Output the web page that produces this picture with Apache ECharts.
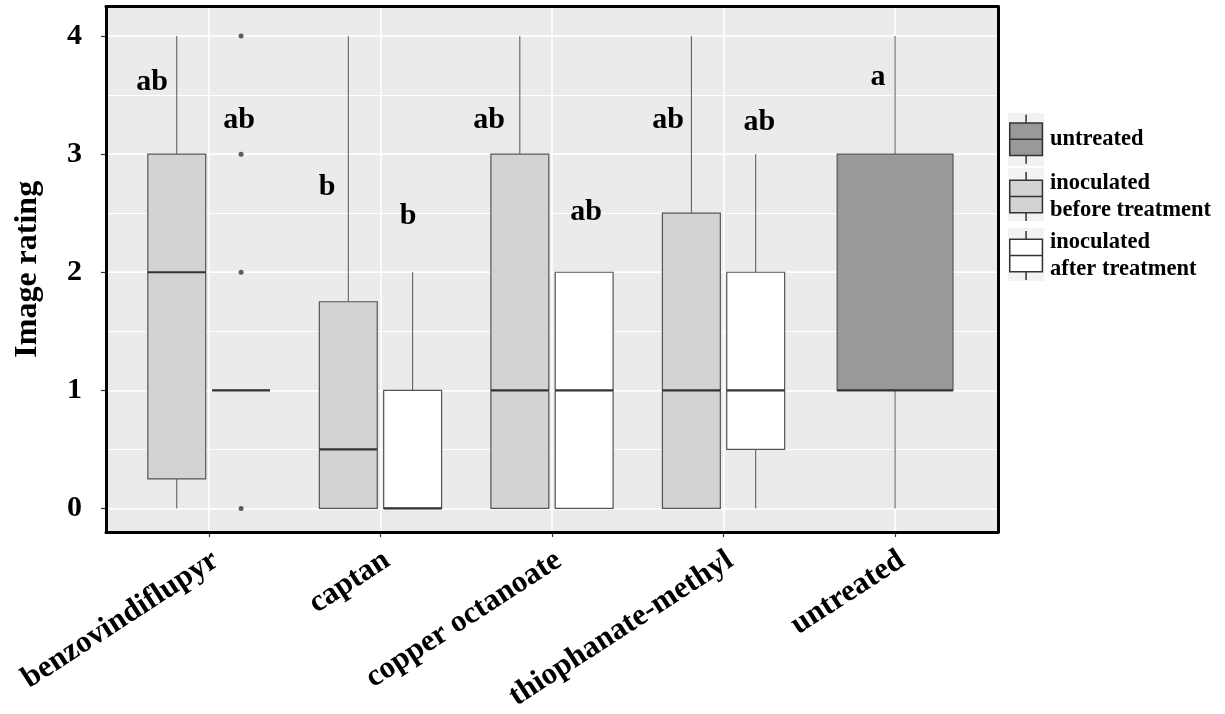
<!DOCTYPE html>
<html>
<head>
<meta charset="utf-8">
<script src="https://cdn.jsdelivr.net/npm/echarts@6/dist/echarts.min.js"></script>
<style>
html,body{margin:0;padding:0;background:#fff;}
#chart{width:1225px;height:714px;}
</style>
</head>
<body>
<div id="chart"></div>
<script>
// ---------- data ----------
const categories = ['benzovindiflupyr', 'captan', 'copper octanoate', 'thiophanate-methyl', 'untreated'];
const groupNames = ['untreated', 'inoculated before treatment', 'inoculated after treatment'];
const yTickValues = [0, 1, 2, 3, 4];
const yGridValues = [0, 0.5, 1, 1.5, 2, 2.5, 3, 3.5, 4];
// [min, Q1, median, Q3, max] per category (null = no box)
const untreatedStats = [null, null, null, null, [0, 1, 1, 3, 4]];
const beforeStats = [[0, 0.25, 2, 3, 4], [0, 0, 0.5, 1.75, 4], [0, 0, 1, 3, 4], [0, 0, 1, 2.5, 4], null];
const afterStats = [[1, 1, 1, 1, 1], [0, 0, 0, 1, 2], [0, 0, 1, 2, 2], [0, 0.5, 1, 2, 3], null];
const afterOutliers = [[0, 2, 3, 4], [], [], [], []];
// significance letters (x in category units, y in rating units)
const letterText = ['ab', 'ab', 'b', 'b', 'ab', 'ab', 'ab', 'ab', 'a'];
const letterX = [0.668, 1.176, 1.689, 2.161, 2.633, 3.199, 3.677, 4.208, 4.901];
const letterY = [3.61, 3.29, 2.72, 2.47, 3.29, 2.51, 3.29, 3.27, 3.65];

// ---------- styling / layout ----------
const FONT = '"Liberation Serif", "Times New Roman", serif';
const fills = ['#999999', '#d3d3d3', '#ffffff'];
const dodge = [{off: 0, w: 0.675}, {off: -0.1875, w: 0.3375}, {off: 0.1875, w: 0.3375}];
const xTickValues = categories.map((c, i) => i + 1);

function toData(stats) {
  const out = [];
  stats.forEach((s, i) => { if (s) out.push([i + 1].concat(s)); });
  return out;
}

function boxRender(off, w, fill) {
  return function (params, api) {
    const x = api.value(0) + off;
    const pMin = api.coord([x, api.value(1)]);
    const pQ1 = api.coord([x, api.value(2)]);
    const pMed = api.coord([x, api.value(3)]);
    const pQ3 = api.coord([x, api.value(4)]);
    const pMax = api.coord([x, api.value(5)]);
    const left = api.coord([x - w / 2, 0])[0];
    const right = api.coord([x + w / 2, 0])[0];
    return {
      type: 'group',
      children: [
        {type: 'line', shape: {x1: pMin[0], y1: pMin[1], x2: pQ1[0], y2: pQ1[1]}, style: {stroke: '#555', lineWidth: 1}},
        {type: 'line', shape: {x1: pQ3[0], y1: pQ3[1], x2: pMax[0], y2: pMax[1]}, style: {stroke: '#555', lineWidth: 1}},
        {type: 'rect', shape: {x: left, y: pQ3[1], width: right - left, height: pQ1[1] - pQ3[1]}, style: {fill: fill, stroke: '#555', lineWidth: 1.2}},
        {type: 'line', shape: {x1: left, y1: pMed[1], x2: right, y2: pMed[1]}, style: {stroke: '#333', lineWidth: 2.2}}
      ]
    };
  };
}

const allStats = [untreatedStats, beforeStats, afterStats];
const boxSeries = groupNames.map((name, g) => ({
  type: 'custom',
  name: name,
  xAxisIndex: 0,
  yAxisIndex: 0,
  silent: true,
  itemStyle: {color: fills[g], borderColor: '#444', borderWidth: 1},
  encode: {x: 0, y: [1, 2, 3, 4, 5]},
  renderItem: boxRender(dodge[g].off, dodge[g].w, fills[g]),
  data: toData(allStats[g]),
  z: 2
}));

const outlierData = [];
afterOutliers.forEach((vals, i) => vals.forEach(v => outlierData.push([i + 1 + dodge[2].off, v])));

const letterData = letterText.map((t, i) => [letterX[i], letterY[i], t]);

const chart = echarts.init(document.getElementById('chart'), null, {renderer: 'canvas'});
const baseX = {type: 'value', min: 0.4, max: 5.6};
const baseY = {type: 'value', min: -0.2, max: 4.25};
const borderLine = {show: true, onZero: false, lineStyle: {color: '#000', width: 3}};
const noLine = {show: false, onZero: false};
const off = {show: false};

// light key backgrounds behind the legend glyphs (ggplot legend.key)
const keyBg = [113, 168, 228].map(t => ({
  type: 'rect', left: 1008, top: t, z: 0, silent: true,
  shape: {width: 36, height: 53}, style: {fill: '#f2f2f2'}
}));

chart.setOption({
  animation: false,
  backgroundColor: '#ffffff',
  graphic: keyBg,
  grid: {left: 106, right: 227, top: 6.5, bottom: 178, show: true, backgroundColor: '#ebebeb', borderWidth: 0},
  xAxis: [
    Object.assign({}, baseX, {
      position: 'bottom',
      axisLine: noLine,
      axisTick: {show: true, customValues: xTickValues, length: 5, lineStyle: {color: '#333', width: 1.2}},
      axisLabel: {
        customValues: xTickValues,
        formatter: v => categories[Math.round(v) - 1],
        rotate: 33, margin: 30, padding: [0, -8, 0, 0],
        color: '#000', fontFamily: FONT, fontWeight: 'bold', fontSize: 31
      },
      splitLine: {show: true, lineStyle: {color: '#ffffff', width: 1.6}}
    }),
    Object.assign({}, baseX, {position: 'bottom', z: 3, axisLine: borderLine, axisTick: off, axisLabel: off, splitLine: off}),
    Object.assign({}, baseX, {position: 'top', z: 3, axisLine: borderLine, axisTick: off, axisLabel: off, splitLine: off})
  ],
  yAxis: [
    Object.assign({}, baseY, {
      position: 'left', axisLine: noLine,
      axisTick: {show: false, customValues: yGridValues},
      axisLabel: {show: false, customValues: yGridValues},
      splitLine: {show: true, lineStyle: {color: '#ffffff', width: 1}}
    }),
    Object.assign({}, baseY, {
      position: 'left', axisLine: noLine,
      axisTick: {show: true, customValues: yTickValues, length: 5, lineStyle: {color: '#333', width: 1.2}},
      axisLabel: {customValues: yTickValues, margin: 24, color: '#000', fontFamily: FONT, fontWeight: 'bold', fontSize: 30},
      splitLine: {show: true, lineStyle: {color: '#ffffff', width: 1.6}},
      name: 'Image rating', nameLocation: 'middle', nameRotate: 90, nameGap: 62,
      nameTextStyle: {color: '#000', fontFamily: FONT, fontWeight: 'bold', fontSize: 32}
    }),
    Object.assign({}, baseY, {position: 'left', z: 3, axisLine: borderLine, axisTick: off, axisLabel: off, splitLine: off}),
    Object.assign({}, baseY, {position: 'right', z: 3, axisLine: borderLine, axisTick: off, axisLabel: off, splitLine: off})
  ],
  legend: {
    orient: 'vertical',
    left: 1004, top: 109, z: 5,
    itemWidth: 34, itemHeight: 49, itemGap: 5,
    icon: 'path://M17,0V8M1,8H33V40H1ZM1,24H33M17,40V48',
    itemStyle: {borderColor: '#333', borderWidth: 1.5},
    selectedMode: false,
    data: groupNames,
    formatter: name => name.replace(/^inoculated /, 'inoculated\n'),
    textStyle: {color: '#000', fontFamily: FONT, fontWeight: 'bold', fontSize: 22.5, lineHeight: 27, padding: [0, 0, 0, 2]}
  },
  series: boxSeries.concat([
    {
      type: 'scatter', name: 'outliers', xAxisIndex: 0, yAxisIndex: 0, silent: true,
      symbolSize: 5, itemStyle: {color: '#333'}, data: outlierData, z: 3
    },
    {
      type: 'custom', name: 'letters', xAxisIndex: 0, yAxisIndex: 0, silent: true,
      encode: {x: 0, y: 1},
      renderItem: function (params, api) {
        const p = api.coord([api.value(0), api.value(1)]);
        return {
          type: 'text',
          style: {
            text: letterText[params.dataIndex], x: p[0], y: p[1],
            align: 'center', verticalAlign: 'middle',
            fill: '#000', fontFamily: FONT, fontWeight: 'bold', fontSize: 30
          }
        };
      },
      data: letterData, z: 4
    }
  ])
});
</script>
</body>
</html>
